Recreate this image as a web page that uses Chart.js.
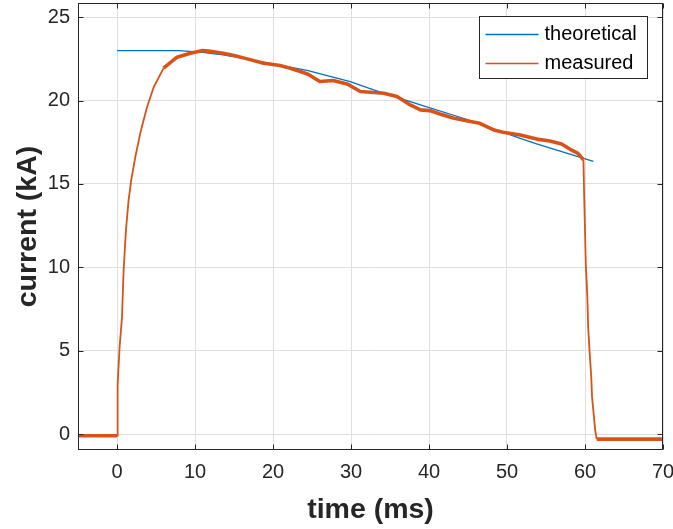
<!DOCTYPE html>
<html>
<head>
<meta charset="utf-8">
<script src="https://cdn.jsdelivr.net/npm/chart.js@4/dist/chart.umd.min.js"></script>
<style>
  html, body { margin: 0; padding: 0; background: #ffffff; }
  #wrap { width: 673px; height: 529px; position: relative; }
</style>
</head>
<body>
<div id="wrap"><canvas id="c" width="673" height="529"></canvas></div>
<script>
// ---- data ----
const seriesNames = ["theoretical", "measured"];

const theoTime    = [0, 7.9, 10.7, 13.6, 16, 20, 24.5, 29.9, 32.9, 38.9, 45, 51.6, 53.8, 61.07];
const theoCurrent = [23, 23, 22.9, 22.74, 22.55, 22.2, 21.8, 21.14, 20.64, 19.74, 18.85, 17.75, 17.4, 16.35];

const measTime = [-5, -0.05, 0.0, 0.08, 0.33, 0.64, 0.85, 1.15, 1.49, 1.83, 2.34, 2.99, 3.84, 4.7, 5.97, 7.69, 9.4,
  11.0, 12.0, 13.6, 15.0, 16.7, 18.8, 20.9, 22.2, 23.5, 24.5, 26.0, 27.7, 29.5, 31.2, 32.5, 34.2, 35.9, 37.6, 38.9,
  40.1, 41.4, 43.1, 45.3, 46.5, 48.3, 49.5, 51.7, 53.8, 55.5, 57.0, 58.1, 59.1, 59.8, 59.9, 60.1, 60.3, 60.4, 60.6,
  60.8, 60.9, 61.1, 61.3, 61.5, 70];
const measCurrent = [-0.1, -0.1, -0.1, 2.96, 5.2, 7.0, 9.85, 12.25, 14.05, 15.25, 16.6, 18.05, 19.6, 20.8, 21.95, 22.6, 22.84,
  23.0, 22.95, 22.84, 22.7, 22.5, 22.24, 22.1, 21.94, 21.74, 21.58, 21.14, 21.2, 21.0, 20.54, 20.5, 20.44, 20.24, 19.74, 19.44,
  19.4, 19.2, 18.95, 18.74, 18.64, 18.24, 18.1, 17.94, 17.69, 17.58, 17.4, 17.08, 16.84, 16.44, 14.15, 10.2, 8.25, 6.45, 4.86,
  3.45, 2.25, 1.26, 0.26, -0.3, -0.3];

const xTickValues = [0, 10, 20, 30, 40, 50, 60, 70];
const yTickValues = [0, 5, 10, 15, 20, 25];
const xLimits = [-5, 70];
const yLimits = [-0.95, 25.85];
const xTitle = "time (ms)";
const yTitle = "current (kA)";

// ---- styling ----
const AX = '#262626';
const GRID = '#dfdfdf';
const BLUE = '#0072BD';
const ORANGE = '#D95319';
const FONT = "'Liberation Sans', Arial, Helvetica, sans-serif";

const theoData = theoTime.map((t, i) => ({x: t, y: theoCurrent[i]}));
const measData = measTime.map((t, i) => ({x: t, y: measCurrent[i]}));

const boxPlugin = {
  id: 'boxPlugin',
  afterDraw(chart) {
    const {ctx, chartArea: a, scales} = chart;
    ctx.save();
    ctx.strokeStyle = AX;
    ctx.lineWidth = 1;
    const L = Math.round(a.left) + 0.5, R = Math.round(a.right) - 0.5;
    const T = Math.round(a.top) + 0.5, B = Math.round(a.bottom) - 0.5;
    ctx.strokeRect(L, T, R - L, B - T);
    const tl = 5;
    ctx.beginPath();
    xTickValues.forEach(v => {
      const px = Math.round(scales.x.getPixelForValue(v)) + 0.5;
      ctx.moveTo(px, B); ctx.lineTo(px, B - tl);
      ctx.moveTo(px, T); ctx.lineTo(px, T + tl);
    });
    yTickValues.forEach(v => {
      const py = Math.round(scales.y.getPixelForValue(v)) + 0.5;
      ctx.moveTo(L, py); ctx.lineTo(L + tl, py);
      ctx.moveTo(R, py); ctx.lineTo(R - tl, py);
    });
    ctx.stroke();

    // legend box
    const bw = 168, bh = 62;
    const bx = Math.round(a.right - 16 - bw) + 0.5, by = Math.round(a.top + 13) + 0.5;
    ctx.fillStyle = '#ffffff';
    ctx.fillRect(bx, by, bw, bh);
    ctx.strokeStyle = AX;
    ctx.strokeRect(bx, by, bw, bh);
    ctx.font = '20px ' + FONT;
    ctx.textBaseline = 'middle';
    ctx.textAlign = 'left';
    chart.data.datasets.forEach((ds, i) => {
      const y = by + 17 + i * 29;
      ctx.strokeStyle = ds.borderColor;
      ctx.lineWidth = 1.5;
      ctx.beginPath();
      ctx.moveTo(bx + 6, Math.round(y) + 0.5);
      ctx.lineTo(bx + 59, Math.round(y) + 0.5);
      ctx.stroke();
      ctx.fillStyle = '#000000';
      ctx.fillText(ds.label, bx + 65, y + 1);
    });
    ctx.restore();
  }
};

new Chart(document.getElementById('c'), {
  type: 'line',
  data: {
    datasets: [
      {
        label: seriesNames[0],
        data: theoData,
        borderColor: BLUE,
        backgroundColor: BLUE,
        borderWidth: 1.3,
        pointRadius: 0,
        tension: 0,
        order: 2
      },
      {
        label: seriesNames[1],
        data: measData,
        borderColor: ORANGE,
        backgroundColor: ORANGE,
        borderWidth: 3,
        pointRadius: 0,
        tension: 0,
        order: 1,
        borderJoinStyle: 'round',
        segment: {
          borderWidth: c => {
            const dx = Math.abs(c.p1.x - c.p0.x), dy = Math.abs(c.p1.y - c.p0.y);
            return dy > 1.5 * dx ? 1.8 : 3.6;
          }
        }
      }
    ]
  },
  options: {
    responsive: false,
    animation: false,
    events: [],
    layout: { padding: { left: 0, right: 10, top: 3, bottom: 0 } },
    plugins: { legend: { display: false }, tooltip: { enabled: false } },
    scales: {
      x: {
        type: 'linear',
        min: xLimits[0], max: xLimits[1],
        afterBuildTicks: s => { s.ticks = xTickValues.map(v => ({value: v})); },
        afterFit: s => { s.height = 79; s.paddingLeft = 0; s.paddingRight = 0; },
        grid: { color: GRID, lineWidth: 1, drawTicks: false },
        border: { display: false },
        ticks: { color: AX, font: { family: FONT, size: 20 }, padding: 10, maxRotation: 0, autoSkip: false },
        title: { display: true, text: xTitle, color: AX, font: { family: FONT, size: 28.5, weight: 'bold' }, padding: { top: 0, bottom: 2 } }
      },
      y: {
        type: 'linear',
        min: yLimits[0], max: yLimits[1],
        afterBuildTicks: s => { s.ticks = yTickValues.map(v => ({value: v})); },
        afterFit: s => { s.width = 78; s.paddingTop = 0; s.paddingBottom = 0; },
        grid: { color: GRID, lineWidth: 1, drawTicks: false },
        border: { display: false },
        ticks: { color: AX, font: { family: FONT, size: 20 }, padding: 8, autoSkip: false },
        title: { display: true, text: yTitle, color: AX, font: { family: FONT, size: 28.5, weight: 'bold' }, padding: { top: 11, bottom: 0 } }
      }
    }
  },
  plugins: [boxPlugin]
});
</script>
</body>
</html>
